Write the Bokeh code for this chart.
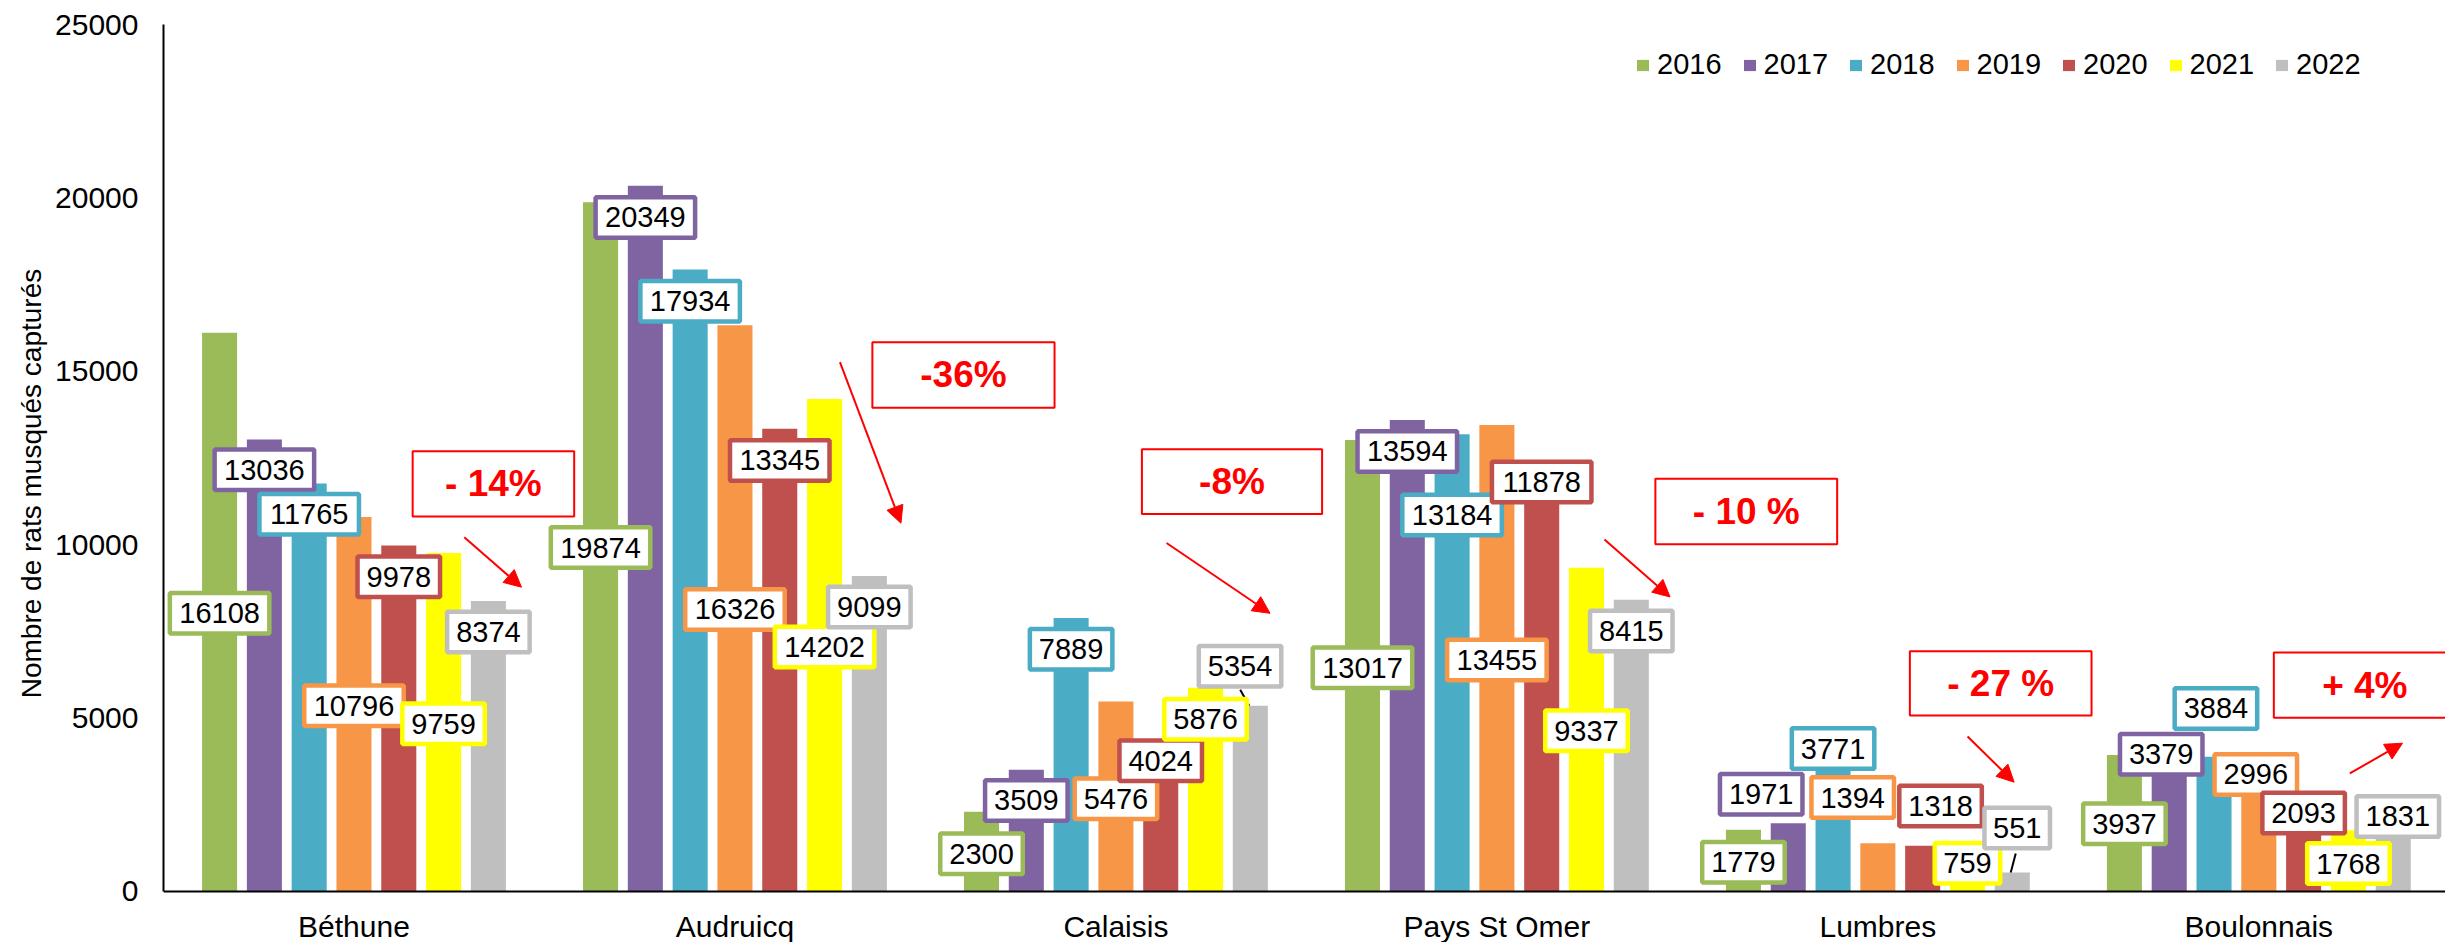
from bokeh.plotting import figure
from bokeh.models import Range1d, FixedTicker, ColumnDataSource, Arrow, NormalHead, Legend
from bokeh.transform import dodge
from bokeh.core.properties import value
from bokeh.embed import file_html
from bokeh.resources import INLINE

# ---------------- data ----------------
regions = ["Béthune", "Audruicq", "Calaisis", "Pays St Omer", "Lumbres", "Boulonnais"]
years = ["2016", "2017", "2018", "2019", "2020", "2021", "2022"]

v2016 = [16108, 19874, 2300, 13017, 1779, 3937]
v2017 = [13036, 20349, 3509, 13594, 1971, 3379]
v2018 = [11765, 17934, 7889, 13184, 3771, 3884]
v2019 = [10796, 16326, 5476, 13455, 1394, 2996]
v2020 = [9978, 13345, 4024, 11878, 1318, 2093]
v2021 = [9759, 14202, 5876, 9337, 759, 1768]
v2022 = [8374, 9099, 5354, 8415, 551, 1831]
series = [v2016, v2017, v2018, v2019, v2020, v2021, v2022]

colors = ["#9BBB59", "#8064A2", "#4BACC6", "#F79646", "#C0504D", "#FFFF00", "#BFBFBF"]

y_ticks = [0, 5000, 10000, 15000, 20000, 25000]

# change annotations (text of the red boxes)
changes = ["- 14%", "-36%", "-8%", "- 10 %", "- 27 %", "+ 4%"]

# ---------------- layout (label placement, in data units) ----------------
label_y = [
    [8022, 9919, 1087, 6453, 845, 1952],
    [12163, 19438, 2624, 12690, 2806, 3959],
    [10880, 17021, 6984, 10854, 4123, 5277],
    [5355, 8134, 2673, 6678, 2710, 3374],
    [9077, 12431, 3769, 11808, 2465, 2264],
    [4836, 7053, 4965, 4634, 816, 807],
    [7486, 8204, 6493, 7512, 1831, 2163],
]
label_dx = [
    [0, 0, 0, 0, 0, 0],
    [0, 0, 0, 0, -0.071, -0.021],
    [0, 0, 0, 0, 0, 0.005],
    [0, 0, 0, 0, -0.066, -0.008],
    [0, 0, 0, 0, 0.047, 0],
    [0, 0, 0, 0, 0, 0],
    [0, 0, -0.027, 0, 0.013, 0.012],
]

box_left = [0.654, 1.8607, 2.5682, 3.9160, 4.5840, 5.5394]
box_right = [1.078, 2.3389, 3.0412, 4.3932, 5.0609, 6.017]
box_top = [12696, 15839, 12751, 11903, 6929, 6892]
box_bottom = [10813, 13948, 10882, 10014, 5075, 5009]

arr_xs = [0.7895, 1.7756, 2.6329, 3.7824, 4.7354, 5.7388]
arr_ys = [10216, 15262, 10049, 10153, 4469, 3403]
arr_xe = [0.9396, 1.9357, 2.9045, 3.9546, 4.8577, 5.8772]
arr_ye = [8775, 10620, 8022, 8492, 3152, 4276]

leader_x0 = [2.8262, 4.8619]
leader_y0 = [5816, 1096]
leader_x1 = [2.8499, 4.8488]
leader_y1 = [5354, 551]

FONT = "Liberation Sans"
pitch = 0.1176
bar_w = 0.092

# frame reaches the bottom of the window; the value axis starts a little below 0
p = figure(width=2445, height=942, output_backend="svg", toolbar_location=None,
           x_range=Range1d(0, 5.99), y_range=Range1d(-1470.6, 25000),
           min_border_left=163, min_border_right=0, min_border_top=24, min_border_bottom=0)
p.outline_line_color = None
p.grid.visible = False
p.background_fill_color = "white"

centers = [i + 0.5 for i in range(len(regions))]

# axes
ov = {}
for c, r in zip(centers, regions):
    ov[c] = r
    ov[str(c)] = r
p.xaxis.ticker = FixedTicker(ticks=centers)
p.xaxis.major_label_overrides = ov
p.xaxis.fixed_location = 0
p.yaxis.ticker = FixedTicker(ticks=y_ticks)
p.yaxis.bounds = (0, 25000)
p.yaxis.axis_label = "Nombre de rats musqués capturés"
for ax in (p.xaxis[0], p.yaxis[0]):
    ax.axis_line_color = "black"
    ax.axis_line_width = 2
    ax.major_tick_line_color = None
    ax.minor_tick_line_color = None
    ax.major_tick_out = 0
    ax.major_tick_in = 0
    ax.minor_tick_out = 0
    ax.minor_tick_in = 0
    ax.major_label_text_font = FONT
    ax.major_label_text_font_size = "30px"
    ax.major_label_text_color = "black"
p.xaxis.major_label_standoff = 19
p.yaxis.major_label_standoff = 25
p.yaxis.axis_label_text_font = FONT
p.yaxis.axis_label_text_font_size = "28px"
p.yaxis.axis_label_text_font_style = "normal"
p.yaxis.axis_label_text_color = "black"
p.yaxis.axis_label_standoff = 5

# bars
bar_renderers = []
sources = []
for j, (yr, vals, col) in enumerate(zip(years, series, colors)):
    off = (j - 3) * pitch
    txt = [str(v) for v in vals]
    src = ColumnDataSource(dict(
        x=centers, top=vals,
        lx=[c + d for c, d in zip(centers, label_dx[j])],
        ly=label_y[j], txt=txt,
        bw=[17 * len(t) + 14.5 for t in txt],
    ))
    sources.append((src, off, col))
    r = p.vbar(x=dodge("x", off, range=p.x_range), top="top", width=bar_w, source=src,
               fill_color=col, line_color=None)
    bar_renderers.append(r)

# leader lines
p.segment(x0=leader_x0, y0=leader_y0, x1=leader_x1, y1=leader_y1,
          line_color="black", line_width=2)

# data labels
for src, off, col in sources:
    p.rect(x=dodge("lx", off, range=p.x_range), y="ly", width="bw", height=40.5,
           width_units="screen", height_units="screen", source=src,
           fill_color="white", line_color=col, line_width=4.5)
    p.text(x=dodge("lx", off, range=p.x_range), y="ly", text="txt", source=src,
           text_font=value(FONT), text_font_size="29px", text_color="black",
           text_align="center", text_baseline="middle")

# change annotations
p.quad(left=box_left, right=box_right, top=box_top, bottom=box_bottom,
       fill_color="white", line_color="#FF0000", line_width=2)
p.text(x=[(a + b) / 2 for a, b in zip(box_left, box_right)],
       y=[(a + b) / 2 for a, b in zip(box_top, box_bottom)],
       text=changes, text_font=value(FONT), text_font_size="37px",
       text_font_style="bold", text_color="#FF0000",
       text_align="center", text_baseline="middle")

arr_src = ColumnDataSource(dict(xs=arr_xs, ys=arr_ys, xe=arr_xe, ye=arr_ye))
p.add_layout(Arrow(end=NormalHead(size=17, fill_color="#FF0000", line_color="#FF0000", line_width=1),
                   x_start="xs", y_start="ys", x_end="xe", y_end="ye", source=arr_src,
                   line_color="#FF0000", line_width=2))

legend = Legend(items=[(yr, [r]) for yr, r in zip(years, bar_renderers)],
                orientation="horizontal", location=(1472, 861),
                glyph_width=15, glyph_height=14, label_standoff=7, spacing=20,
                padding=0, margin=0, border_line_color=None, background_fill_alpha=0,
                label_text_font=FONT, label_text_font_size="29px", label_text_color="black")
p.add_layout(legend)

open("out.html", "w").write(file_html(p, INLINE))
